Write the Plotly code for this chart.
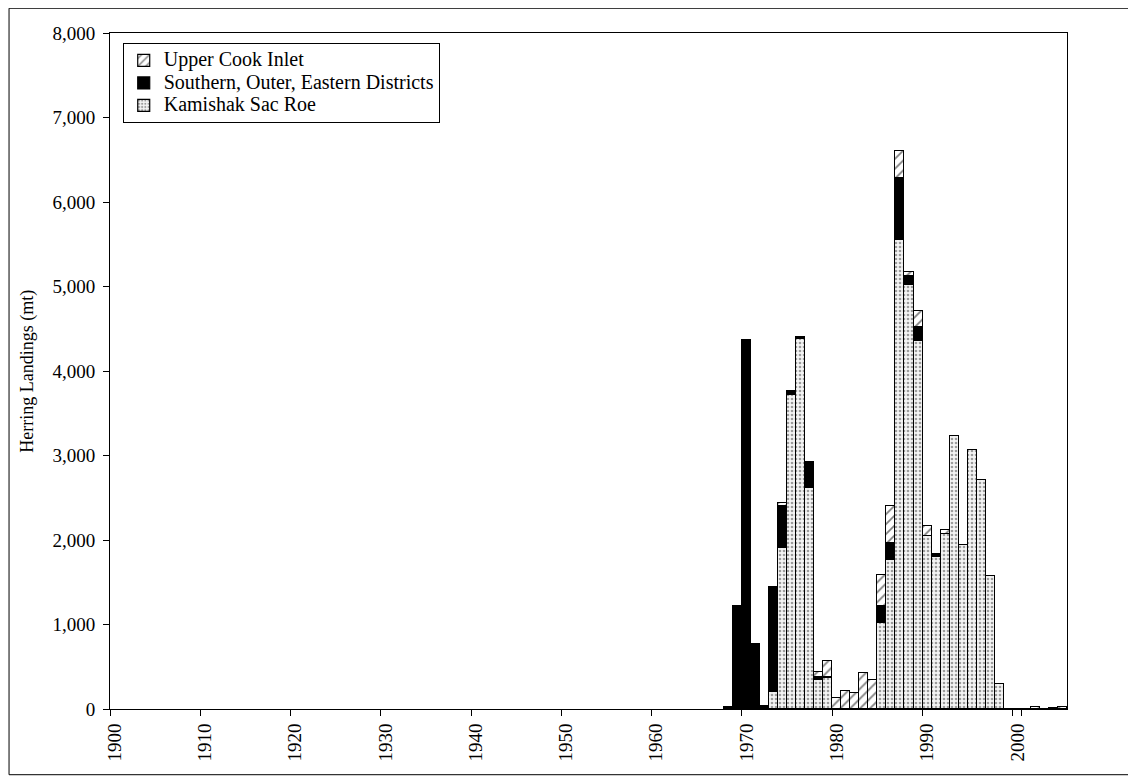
import plotly.graph_objects as go

all_years = [str(y) for y in range(1900, 2006)]
years = [str(y) for y in range(1968, 2006)]

# values by year 1968..2005 (metric tons)
kamishak = [0, 0, 0, 0, 0, 205, 1900, 3716, 4375, 2612,
            347, 370, 0, 0, 0, 0, 0, 1014, 1763, 5554,
            5021, 4350, 2051, 1800, 2075, 3234, 1944, 3061, 2706, 1578,
            296, 0, 0, 0, 0, 0, 0, 0]
southern = [25, 1220, 4365, 765, 30, 1235, 505, 47, 25, 307,
            30, 10, 0, 0, 0, 0, 0, 205, 197, 730,
            99, 171, 0, 20, 0, 0, 0, 0, 0, 0,
            0, 0, 0, 0, 0, 0, 0, 0]
upper_cook = [0, 0, 0, 0, 0, 0, 35, 0, 0, 0,
              60, 183, 130, 208, 189, 426, 339, 367, 446, 323,
              47, 185, 118, 15, 39, 0, 0, 0, 0, 0,
              0, 0, 0, 0, 22, 0, 15, 18]
tick_labels = [str(y) for y in range(1900, 2001, 10)]
y_title = "Herring Landings (mt)"

FONT = "Liberation Serif"
line = dict(color="black", width=1.2)


def big(name):
    return '<span style="font-size:20px">' + name + '</span>'


fig = go.Figure()
fig.add_trace(go.Bar(
    x=years, y=kamishak, name=big("Kamishak Sac Roe"),
    marker=dict(color="white", line=line,
                pattern=dict(shape=".", size=4, solidity=0.35,
                             fgcolor="#444444", bgcolor="#f4f4f4")),
))
fig.add_trace(go.Bar(
    x=years, y=southern, name=big("Southern, Outer, Eastern Districts"),
    marker=dict(color="black", line=line),
))
fig.add_trace(go.Bar(
    x=years, y=upper_cook, name=big("Upper Cook Inlet"),
    marker=dict(color="white", line=line,
                pattern=dict(shape="/", size=7, solidity=0.25,
                             fgcolor="black", bgcolor="white")),
))

# page body adds an 8px offset; margins compensate so the plot area
# lands at x 110..1067, y 33..709 in the browser window
fig.update_layout(
    width=1136, height=777,
    paper_bgcolor="white", plot_bgcolor="white",
    barmode="stack", bargap=0,
    margin=dict(l=102, r=77, t=25, b=76),
    font=dict(family=FONT, size=18, color="black"),
    showlegend=True,
    legend=dict(x=0.0133, y=0.985, xanchor="left", yanchor="top",
                traceorder="reversed", bordercolor="black", borderwidth=1,
                bgcolor="white", font=dict(family=FONT, size=15),
                itemwidth=30, tracegroupgap=0),
    shapes=[dict(type="rect", xref="paper", yref="paper",
                 x0=-0.1055, x1=1.0669, y0=-0.0972, y1=1.0366,
                 line=dict(color="black", width=1))],
    annotations=[dict(text=y_title, xref="paper", yref="paper",
                      x=-0.087, y=0.5, xanchor="center", yanchor="middle",
                      textangle=-90, showarrow=False,
                      font=dict(family=FONT, size=18))],
)
fig.update_xaxes(
    type="category", categoryorder="array", categoryarray=all_years,
    range=[-0.5, len(all_years) - 0.5],
    tickmode="array", tickvals=tick_labels, ticktext=tick_labels,
    tickson="boundaries", tickangle=-90,
    ticks="outside", ticklen=6, tickcolor="black", ticklabelstandoff=6,
    showline=True, linecolor="black", linewidth=1, mirror=True,
    showgrid=False, zeroline=False,
    tickfont=dict(family=FONT, size=19),
)
fig.update_yaxes(
    range=[0, 8000], tickmode="linear", tick0=0, dtick=1000,
    tickformat=",d",
    ticks="outside", ticklen=6, tickcolor="black", ticklabelstandoff=4,
    showline=True, linecolor="black", linewidth=1, mirror=True,
    showgrid=False, zeroline=False,
    tickfont=dict(family=FONT, size=19),
)

fig.write_html("out.html")
